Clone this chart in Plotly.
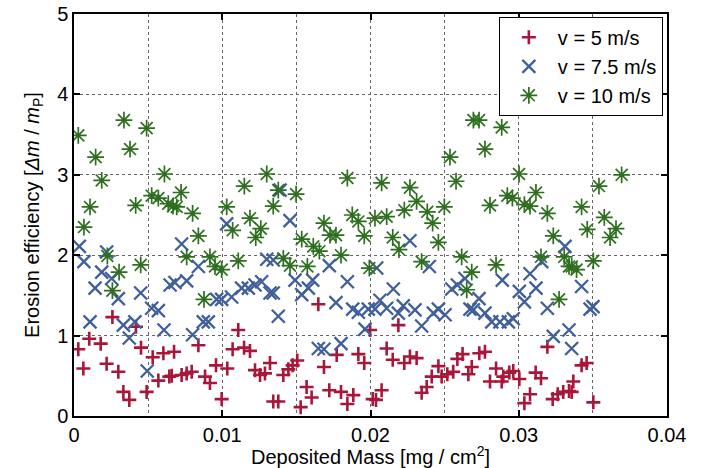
import plotly.graph_objects as go

# v = 5 m/s
x5 = [0.00029, 0.00103, 0.0018, 0.00063, 0.0022, 0.00299, 0.00259, 0.00418, 0.00452, 0.00333,
      0.00373, 0.0049, 0.00531, 0.00569, 0.00603, 0.00643, 0.00675, 0.00659, 0.00726, 0.0076,
      0.00794, 0.00839, 0.00884, 0.00917, 0.00958, 0.01034, 0.00996, 0.01108, 0.0107, 0.01147,
      0.01187, 0.01221, 0.01255, 0.01288, 0.01322, 0.01344, 0.01378, 0.01412, 0.01446, 0.01475,
      0.01506, 0.01529, 0.01569, 0.01603, 0.01648, 0.01686, 0.01722, 0.01772, 0.01801, 0.01844,
      0.01884, 0.01918, 0.01958, 0.01997, 0.02015, 0.02037, 0.02075, 0.02109, 0.0215, 0.02188,
      0.02228, 0.02266, 0.02311, 0.02345, 0.02379, 0.02413, 0.02458, 0.0248, 0.02518, 0.02558,
      0.02586, 0.02621, 0.0266, 0.02683, 0.02734, 0.02772, 0.02806, 0.02847, 0.02885, 0.02896,
      0.02936, 0.02963, 0.03004, 0.03038, 0.03076, 0.03114, 0.0315, 0.03193, 0.03229, 0.03263,
      0.033, 0.03339, 0.03368, 0.03357, 0.03424, 0.03458, 0.03503]
y5 = [0.83, 0.96, 0.90, 0.59, 0.65, 0.55, 1.23, 1.11, 0.85, 0.30,
      0.20, 0.30, 0.73, 0.44, 0.78, 0.49, 0.80, 0.50, 0.51, 0.53,
      0.55, 0.88, 0.49, 0.41, 0.63, 0.59, 0.21, 1.07, 0.83, 0.85,
      0.81, 0.57, 0.51, 0.53, 0.66, 0.18, 0.18, 0.51, 0.58, 0.63,
      0.69, 0.11, 0.36, 0.23, 1.39, 0.61, 0.32, 0.76, 0.30, 0.15,
      0.26, 0.77, 0.66, 1.07, 0.21, 0.20, 0.32, 0.84, 0.70, 1.13,
      0.66, 0.74, 0.72, 0.29, 0.36, 0.49, 0.62, 0.49, 0.52, 0.55,
      0.71, 0.77, 0.52, 0.61, 0.78, 0.80, 0.43, 0.59, 0.43, 0.49,
      0.54, 0.56, 0.46, 0.16, 0.27, 0.54, 0.47, 0.86, 0.21, 0.27,
      0.30, 0.31, 0.43, 0.30, 0.63, 0.66, 0.17]

# v = 7.5 m/s
x75 = [0.00036, 0.00067, 0.0022, 0.00187, 0.00254, 0.00142, 0.00299, 0.0045, 0.00108, 0.00333,
       0.00411, 0.00373, 0.00524, 0.00569, 0.00607, 0.00494, 0.00648, 0.00726, 0.00681, 0.0076,
       0.00839, 0.00962, 0.00996, 0.01063, 0.0103, 0.01131, 0.01176, 0.01221, 0.01266, 0.013,
       0.01322, 0.00872, 0.00906, 0.008, 0.0139, 0.01457, 0.01344, 0.01344, 0.01378, 0.01491,
       0.01536, 0.01581, 0.0161, 0.01722, 0.01844, 0.01767, 0.01648, 0.01686, 0.01801, 0.0188,
       0.01918, 0.01963, 0.01985, 0.02042, 0.02266, 0.02397, 0.02154, 0.02064, 0.0203, 0.02109,
       0.02188, 0.02221, 0.023, 0.02345, 0.02424, 0.02458, 0.02503, 0.02548, 0.02586, 0.02637,
       0.02671, 0.03312, 0.03155, 0.03076, 0.02889, 0.03004, 0.03116, 0.03038, 0.02732, 0.02694,
       0.02772, 0.02818, 0.02873, 0.0293, 0.02963, 0.03193, 0.03233, 0.03339, 0.03357, 0.03424,
       0.03481, 0.03501]
y75 = [2.11, 1.92, 2.04, 1.79, 1.71, 1.59, 1.46, 1.53, 1.17, 1.13,
       1.17, 0.97, 1.34, 1.31, 1.07, 0.56, 1.63, 2.14, 1.66, 1.68,
       1.86, 1.45, 1.45, 1.48, 2.39, 1.59, 1.59, 1.63, 1.67, 1.95,
       1.53, 1.17, 1.17, 1.01, 2.81, 2.43, 1.94, 1.53, 1.24, 1.69,
       1.51, 1.59, 1.69, 1.87, 1.67, 1.41, 0.84, 0.83, 0.90, 1.33,
       1.29, 1.08, 1.33, 1.84, 2.18, 1.86, 1.58, 1.44, 1.33, 1.34,
       1.28, 1.37, 1.32, 1.12, 1.28, 1.33, 1.26, 1.58, 1.63, 1.71,
       1.33, 2.11, 1.92, 1.77, 1.69, 1.55, 1.59, 1.42, 1.46, 1.32,
       1.28, 1.17, 1.17, 1.17, 1.21, 1.34, 0.99, 1.07, 0.84, 1.61,
       1.33, 1.36]

# v = 10 m/s
x10 = [0.00029, 0.00337, 0.0049, 0.00146, 0.00378, 0.00187, 0.0061, 0.00108, 0.00416, 0.00524,
       0.00569, 0.00636, 0.00668, 0.00067, 0.00225, 0.00304, 0.0045, 0.00259, 0.00722, 0.00693,
       0.008, 0.00839, 0.0076, 0.00917, 0.00951, 0.00996, 0.00877, 0.01108, 0.0103, 0.0107,
       0.01149, 0.01187, 0.01226, 0.0126, 0.013, 0.01344, 0.01378, 0.01498, 0.01412, 0.01457,
       0.01574, 0.01536, 0.01614, 0.01655, 0.01686, 0.01727, 0.01767, 0.01801, 0.01844, 0.01877,
       0.01918, 0.01958, 0.01992, 0.0203, 0.02109, 0.02075, 0.0215, 0.02192, 0.02228, 0.02266,
       0.02311, 0.02383, 0.02419, 0.02498, 0.02458, 0.02345, 0.02536, 0.02577, 0.02694, 0.02615,
       0.02649, 0.02683, 0.02732, 0.02885, 0.02772, 0.03002, 0.02806, 0.02923, 0.02957, 0.03038,
       0.03076, 0.03116, 0.03193, 0.03233, 0.0315, 0.03307, 0.03339, 0.02847, 0.03272, 0.03694,
       0.03541, 0.03424, 0.03577, 0.03462, 0.03656, 0.03616, 0.03503, 0.03357, 0.0339]
y10 = [3.49, 3.68, 3.58, 3.22, 3.32, 2.93, 3.01, 2.60, 2.62, 2.74,
       2.71, 2.64, 2.61, 2.35, 1.99, 1.79, 1.88, 1.56, 2.78, 2.60,
       2.52, 2.24, 1.98, 1.98, 1.86, 1.82, 1.45, 1.93, 2.60, 2.31,
       2.86, 2.46, 2.22, 2.33, 3.01, 2.61, 2.81, 2.76, 1.96, 1.87,
       1.86, 2.20, 2.11, 2.05, 2.40, 2.25, 2.25, 2.00, 2.96, 2.50,
       2.42, 2.24, 1.84, 2.46, 2.48, 2.90, 2.22, 2.07, 2.56, 2.84,
       2.67, 2.54, 2.40, 2.60, 2.16, 1.92, 3.22, 2.92, 3.68, 1.98,
       1.57, 1.79, 3.68, 3.59, 3.32, 3.01, 2.62, 2.74, 2.71, 2.63,
       2.61, 2.78, 2.52, 2.24, 1.98, 1.98, 1.86, 1.88, 1.45, 3.00,
       2.86, 2.60, 2.47, 2.32, 2.33, 2.22, 1.93, 1.86, 1.82]

names = ["v = 5 m/s", "v = 7.5 m/s", "v = 10 m/s"]
colors = ["#a8173a", "#41609a", "#2e6e1f"]
symbols = ["cross-thin", "x-thin", "asterisk"]
sizes = [10, 13, 14]
widths = [2.6, 2.3, 1.7]

fig = go.Figure()
for xs, ys, n, c, s, sz, w in zip([x5, x75, x10], [y5, y75, y10], names, colors, symbols, sizes, widths):
    fig.add_trace(go.Scatter(
        x=xs, y=ys, mode="markers", name=n,
        marker=dict(symbol=s, size=sz, color=c, line=dict(color=c, width=w)),
    ))

font = "Liberation Sans, Arial, sans-serif"
axis_common = dict(
    showline=True, linecolor="black", linewidth=1.5, mirror="ticks",
    ticks="inside", ticklen=6, tickcolor="black", tickwidth=1.5,
    showgrid=True, gridcolor="#666", griddash="dot", gridwidth=1,
    zeroline=False, automargin=False,
    tickfont=dict(size=20, color="black", family=font),
)
fig.update_xaxes(
    range=[0, 0.04], tickvals=[0, 0.01, 0.02, 0.03, 0.04],
    ticktext=["0", "0.01", "0.02", "0.03", "0.04"],
    minor=dict(dtick=0.005, showgrid=True, gridcolor="#666", griddash="dot", gridwidth=1, ticks=""),
    title=dict(text="Deposited Mass [mg / cm<sup>2</sup>]", font=dict(size=20, color="black", family=font), standoff=0),
    **axis_common,
)
fig.update_yaxes(
    range=[0, 5], dtick=1,
    title=dict(text="Erosion efficiency [<i>Δm</i> / <i>m</i><sub>P</sub>]", font=dict(size=20, color="black", family=font), standoff=12),
    **axis_common,
)
fig.update_layout(
    width=725, height=468,
    margin=dict(l=74, r=58, t=14, b=52),
    plot_bgcolor="white", paper_bgcolor="white",
    font=dict(family=font, color="black"),
    legend=dict(
        x=0.993, y=0.993, xanchor="right", yanchor="top",
        bgcolor="white", bordercolor="black", borderwidth=1,
        font=dict(size=20, color="black", family=font),
        itemwidth=48, tracegroupgap=0,
    ),
)
fig.write_html("out.html")
